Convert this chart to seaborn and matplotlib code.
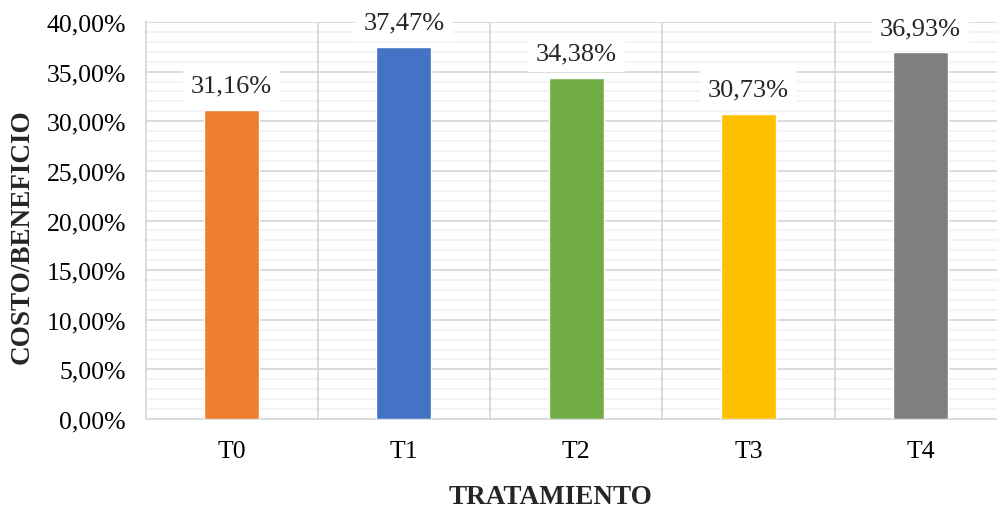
import matplotlib
matplotlib.use("Agg")
import matplotlib.pyplot as plt
from matplotlib.ticker import MultipleLocator, FuncFormatter
import seaborn as sns
import pandas as pd

tratamientos = ["T0", "T1", "T2", "T3", "T4"]
costo_beneficio = [31.16, 37.47, 34.38, 30.73, 36.93]
colores = ["#ED7D31", "#4472C4", "#70AD47", "#FFC000", "#7F7F7F"]

df = pd.DataFrame({"tratamiento": tratamientos, "cb": costo_beneficio})

sns.set_style("white")
plt.rcParams["font.family"] = ["Liberation Serif", "DejaVu Serif"]

fig = plt.figure(figsize=(9.97, 5.10), dpi=100)
ax = fig.add_axes([145.5 / 997, 90 / 510, 1 - 145.5 / 997, 397 / 510])

sns.barplot(data=df, x="tratamiento", y="cb", hue="tratamiento",
            palette=colores, legend=False, width=0.32, ax=ax,
            saturation=1, zorder=3)

ax.set_ylim(0, 40)
ax.set_xlim(-0.5, 4.443)
ax.yaxis.set_major_locator(MultipleLocator(5))
ax.yaxis.set_minor_locator(MultipleLocator(1))
ax.yaxis.set_major_formatter(FuncFormatter(lambda v, p: f"{v:.2f}".replace(".", ",") + "%"))

ax.grid(which="minor", axis="y", color="#f2f2f2", linewidth=1.3, zorder=0)
ax.grid(which="major", axis="y", color="#d9d9d9", linewidth=1.3, zorder=1)
for xb in [0.5, 1.5, 2.5, 3.5]:
    ax.axvline(xb, color="#d9d9d9", linewidth=1.3, zorder=1)

for s in ["top", "right"]:
    ax.spines[s].set_visible(False)
ax.spines["left"].set_color("#d9d9d9")
ax.spines["bottom"].set_color("#d9d9d9")
ax.spines["left"].set_linewidth(1.3)
ax.spines["bottom"].set_linewidth(1.3)

ax.tick_params(axis="both", which="both", length=0, labelsize=18.5, colors="black")
ax.tick_params(axis="x", pad=15)
ax.tick_params(axis="y", pad=14)

ax.set_xlabel("TRATAMIENTO", fontsize=19.5, fontweight="bold", va="center")
ax.xaxis.set_label_coords(0.476, -0.194)
ax.set_ylabel("COSTO/BENEFICIO", fontsize=19.5, fontweight="bold", va="center")
ax.yaxis.set_label_coords(-0.145, 0.463)

for i, v in enumerate(costo_beneficio):
    ax.annotate(f"{v:.2f}".replace(".", ",") + "%", (i, v),
                xytext=(0, 17.5), textcoords="offset points",
                ha="center", va="center", fontsize=19, zorder=5,
                bbox=dict(boxstyle="square,pad=0.3", fc="white", ec="none"))

fig.savefig("out.png", dpi=100)
